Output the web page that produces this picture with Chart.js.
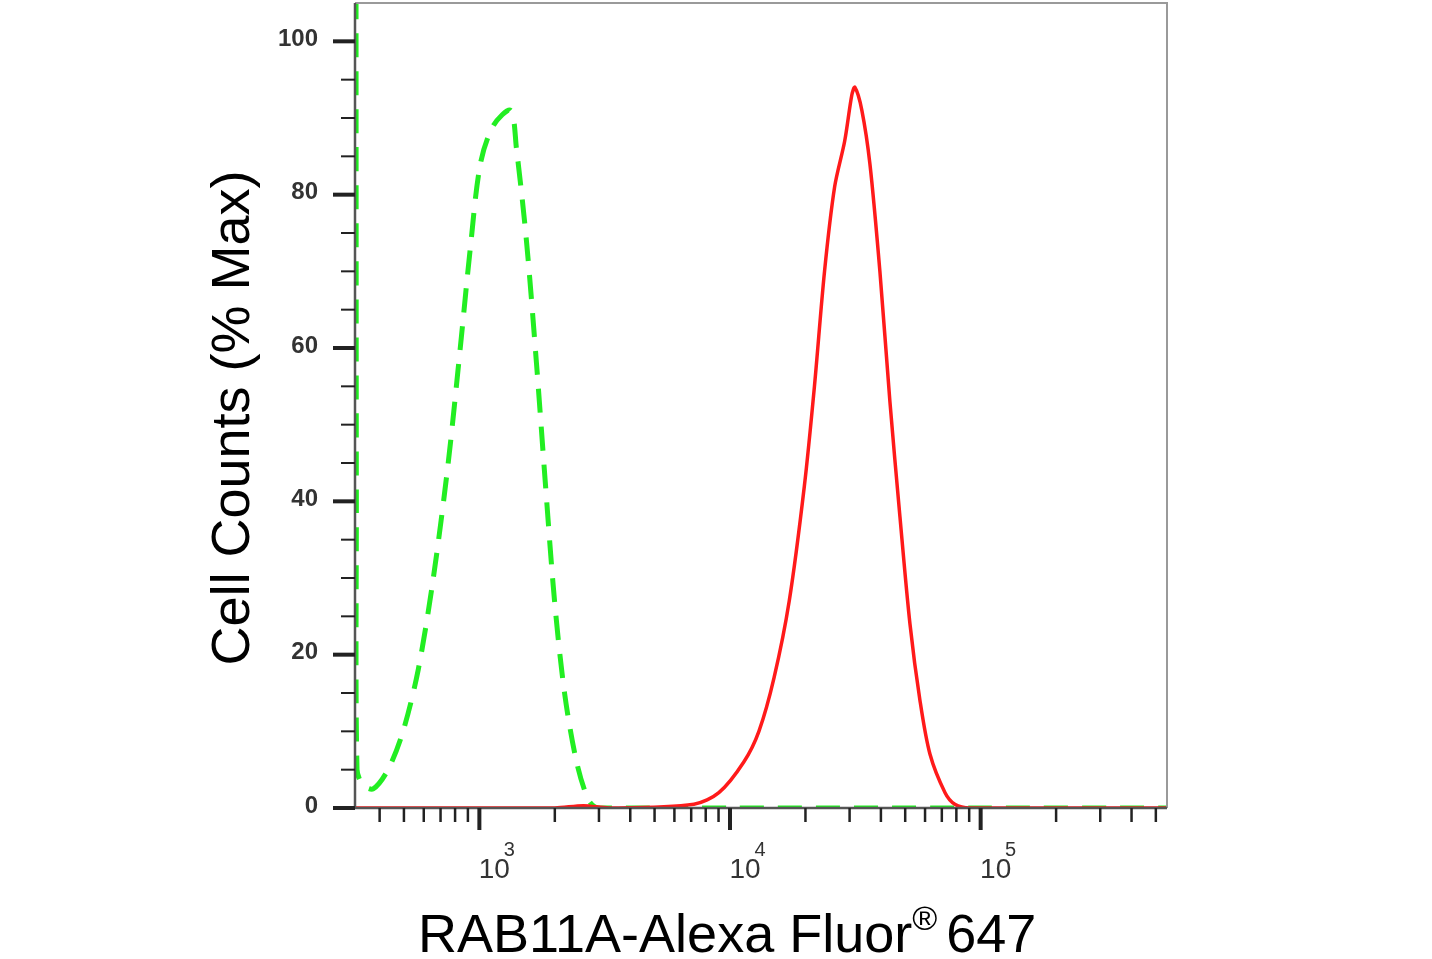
<!DOCTYPE html>
<html><head><meta charset="utf-8">
<script src="https://cdn.jsdelivr.net/npm/chart.js@4"></script>
<style>html,body{margin:0;padding:0;background:#fff}#w{width:1432px;height:959px}</style>
</head><body><div id="w"><canvas id="c"></canvas></div>
<script>
const greenX=[322,323,325,343,377,432,496,570,655,751,839,920,1009,1137,1331,1406,1541,1690,1837,1995,2187,2443,2731,2995,10000,100000,554000];
const greenY=[106,40,5,3,2.5,5,10,18,30,45,60,73,84,89,91,86,74,58,42,27,15,6,1,0,0,0,0];
const redX=[319,2000,2600,3300,7178,9027,11350,13040,14990,17230,19800,21720,23830,26140,28680,30620,31480,33580,36160,39630,43450,47640,52240,57280,62800,72110,78890,90780,554000];
const redY=[0,0,0.3,0,0.5,2,6,10,17,27,42,55,70,81,87,93,94,91,84,70,53,38,24,14,7,2,0.5,0,0];
const yTicks=[0,20,40,60,80,100];
const xDecades=[100,1000,10000,100000];
const xLabelExp=['3','4','5'];
const yTitle='Cell Counts (% Max)';
const xTitle='RAB11A-Alexa Fluor';

const deco={id:'deco',afterDraw(ch){
 const c=ch.ctx,a=ch.chartArea,xs=ch.scales.x,ys=ch.scales.y;
 c.save();
 c.strokeStyle='#9a9a9a';c.lineWidth=2;
 c.beginPath();c.moveTo(a.left,a.top);c.lineTo(a.right,a.top);c.lineTo(a.right,a.bottom);c.stroke();
 c.strokeStyle='#555';c.lineWidth=2.5;
 c.beginPath();c.moveTo(a.left,a.top);c.lineTo(a.left,a.bottom);c.lineTo(a.right,a.bottom);c.stroke();
 c.strokeStyle='#222';
 xDecades.forEach(d=>{for(let m=1;m<=9;m++){const v=d*m;if(v<xs.min||v>xs.max)continue;
   const p=xs.getPixelForValue(v);const maj=m===1;c.lineWidth=maj?4:2.5;
   c.beginPath();c.moveTo(p,a.bottom);c.lineTo(p,a.bottom+(maj?22:14));c.stroke();}});
 for(let v=0;v<=100;v+=5){const p=ys.getPixelForValue(v);const maj=v%20===0;c.lineWidth=maj?4:2;
   c.beginPath();c.moveTo(a.left-(maj?22:14),p);c.lineTo(a.left,p);c.stroke();}
 c.fillStyle='#333';c.font='bold 24px "Liberation Sans Narrow","Liberation Sans"';c.textAlign='right';c.textBaseline='middle';
 yTicks.forEach(v=>c.fillText(String(v),318,ys.getPixelForValue(v)-2));
 c.textAlign='center';
 [1000,10000,100000].forEach((v,i)=>{const p=xs.getPixelForValue(v);
   c.font='28px "Liberation Sans Narrow","Liberation Sans"';c.fillText('10',p+15,870);
   c.font='20px "Liberation Sans"';c.fillText(xLabelExp[i],p+30,850);});
 c.fillStyle='#000';c.font='54px "Liberation Sans"';
 c.save();c.translate(234,418);c.rotate(-Math.PI/2);c.textAlign='center';c.fillText(yTitle,0,0);c.restore();
 c.textAlign='left';c.textBaseline='alphabetic';
 const x0=418;c.fillText(xTitle,x0,952);const w=c.measureText(xTitle).width;
 c.font='34px "Liberation Sans"';c.fillText('®',x0+w,930);const w2=c.measureText('®').width;
 c.font='54px "Liberation Sans"';c.fillText(' 647',x0+w+w2-6,952);
 c.restore();}};

new Chart(document.getElementById('c'),{type:'line',
 data:{datasets:[
  {data:redX.map((x,i)=>({x,y:redY[i]})),borderColor:'#ff1a1a',borderWidth:3.5,pointRadius:0,tension:0.3},
  {data:greenX.map((x,i)=>({x,y:greenY[i]})),borderColor:'#22ee22',borderWidth:5,borderDash:[24,14],pointRadius:0,tension:0.3}
 ]},
 options:{responsive:true,maintainAspectRatio:false,animation:false,
  layout:{padding:{left:355,top:3,right:265,bottom:151}},
  plugins:{legend:{display:false},tooltip:{enabled:false}},
  scales:{x:{type:'logarithmic',min:319,max:554000,display:false},
          y:{min:0,max:105,display:false}}},
 plugins:[deco]});
</script></body></html>
